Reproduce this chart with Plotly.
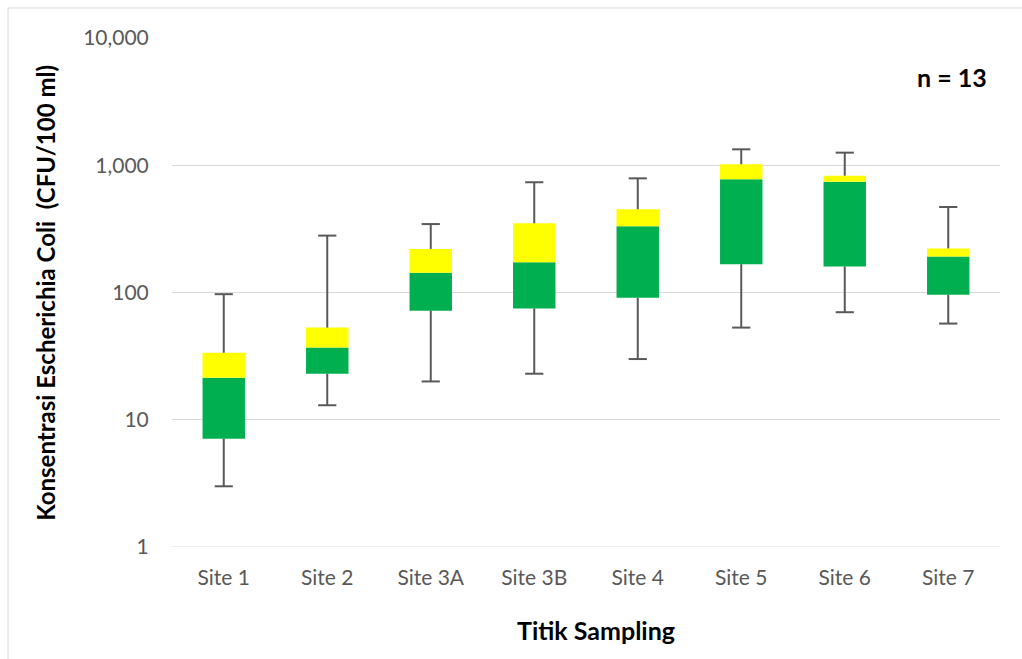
import plotly.graph_objects as go

# Sampling sites and summary statistics of E. coli concentration (CFU/100 ml)
sites = ["Site 1", "Site 2", "Site 3A", "Site 3B", "Site 4", "Site 5", "Site 6", "Site 7"]
minimum = [3, 13, 20, 23, 30, 53, 70, 57]
q1 = [7.1, 23, 72, 75, 91, 167, 160, 96]
median = [21.4, 37, 143, 173, 331, 776, 743, 192]
q3 = [33.6, 53, 220, 350, 451, 1018, 828, 222]
maximum = [97, 280, 345, 735, 789, 1334, 1256, 470]

y_tickvals = [1, 10, 100, 1000, 10000]

GREEN = "#00B050"
YELLOW = "#FFFF00"
WHISKER = "#595959"
FONT = "Lato"

fig = go.Figure()

# Whisker stems: min -> Q1 and Q3 -> max (the box covers the middle part)
stem_x, stem_y = [], []
for s, lo, a, b, hi in zip(sites, minimum, q1, q3, maximum):
    stem_x += [s, s, None, s, s, None]
    stem_y += [lo, a, None, b, hi, None]
fig.add_trace(go.Scatter(x=stem_x, y=stem_y, mode="lines",
                         line=dict(color=WHISKER, width=2),
                         hoverinfo="skip", showlegend=False))

# Whisker caps
fig.add_trace(go.Scatter(x=sites + sites, y=minimum + maximum, mode="markers",
                         marker=dict(symbol="line-ew", size=13,
                                     line=dict(color=WHISKER, width=2)),
                         hoverinfo="skip", showlegend=False))

# Lower half of box: Q1 to median
fig.add_trace(go.Bar(x=sites, y=[m - a for m, a in zip(median, q1)], base=q1,
                     width=0.41, marker=dict(color=GREEN, line=dict(width=0)),
                     showlegend=False))
# Upper half of box: median to Q3
fig.add_trace(go.Bar(x=sites, y=[b - m for b, m in zip(q3, median)], base=median,
                     width=0.41, marker=dict(color=YELLOW, line=dict(width=0)),
                     showlegend=False))

fig.update_layout(
    width=1022, height=659,
    margin=dict(l=172, r=22, t=38, b=112),
    paper_bgcolor="white", plot_bgcolor="white",
    barmode="overlay",
    font=dict(family=FONT, color="#595959", size=21),
    xaxis=dict(
        type="category", showgrid=False, zeroline=False, showline=False,
        ticks="outside", ticklen=12, tickcolor="rgba(0,0,0,0)",
        tickfont=dict(size=21, color="#595959"),
        range=[-0.5, 7.5],
    ),
    yaxis=dict(
        type="log", range=[0, 4],
        tickvals=y_tickvals, tickformat=",",
        showgrid=True, gridcolor="#D9D9D9", gridwidth=1,
        zeroline=False, showline=False,
        ticks="outside", ticklen=18, tickcolor="rgba(0,0,0,0)",
        tickfont=dict(size=21, color="#595959"),
    ),
    shapes=[
        # chart frame
        dict(type="rect", xref="paper", yref="paper",
             x0=-0.198, x1=1.2, y0=-0.4, y1=1.059,
             line=dict(color="#D9D9D9", width=1), layer="below"),
        # baseline gridline at 1
        dict(type="line", xref="paper", yref="y", x0=0, x1=1, y0=1, y1=1,
             line=dict(color="#D9D9D9", width=1), layer="below"),
    ],
    annotations=[
        dict(text="<b>n = 13</b>", xref="paper", yref="paper", x=0.942, y=0.923,
             xanchor="center", yanchor="middle", showarrow=False,
             font=dict(family=FONT, size=25, color="black")),
        dict(text="<b>Konsentrasi Escherichia Coli  (CFU/100 ml)</b>",
             xref="paper", yref="paper", x=-0.153, y=0.5, textangle=-90,
             xanchor="center", yanchor="middle", showarrow=False,
             font=dict(family=FONT, size=24, color="black")),
        dict(text="<b>Titik Sampling</b>", xref="paper", yref="paper",
             x=0.512, y=-0.163, xanchor="center", yanchor="middle", showarrow=False,
             font=dict(family=FONT, size=25, color="black")),
    ],
)

fig.write_html("out.html")
